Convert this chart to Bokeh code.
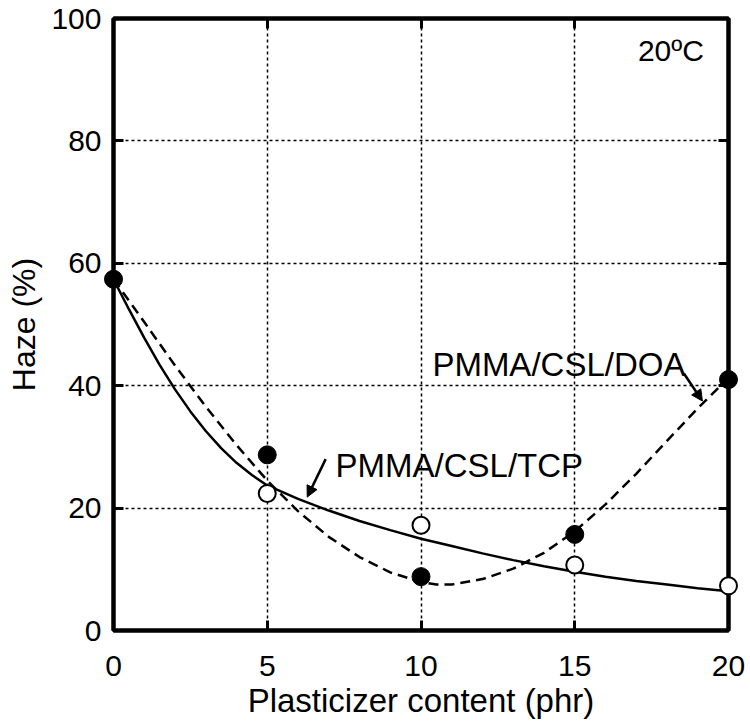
from bokeh.plotting import figure
from bokeh.models import (Range1d, FixedTicker, LinearAxis, Label, Arrow, NormalHead,
                          CustomJSTickFormatter)
from bokeh.embed import file_html
from bokeh.resources import INLINE

# measured data (phr, haze %)
doa_x = [0, 5, 10, 15, 20]
doa_y = [57.4, 28.7, 8.8, 15.7, 41.0]
tcp_x = [5, 10, 15, 20]
tcp_y = [22.4, 17.2, 10.7, 7.3]

# fitted curves
tcp_fit_x = [0, 0.5, 1, 1.5, 2, 2.5, 3, 3.5, 4, 4.5, 5, 6, 7, 8, 9, 10, 11, 12, 13,
             14, 15, 16, 17, 18, 19, 20]
tcp_fit_y = [57.4, 52.5, 47.8, 43.4, 39.4, 35.8, 32.6, 29.8, 27.4, 25.4, 23.7, 21.5,
             19.6, 17.9, 16.4, 15.0, 13.8, 12.6, 11.5, 10.5, 9.6, 8.8, 8.1, 7.5, 6.9, 6.4]
doa_fit_x = [0, 1, 2, 3, 4, 5, 6, 7, 8, 9, 10, 10.5, 11, 12, 13, 14, 15, 16, 17, 18,
             19, 20]
doa_fit_y = [57.4, 50.4, 43.3, 36.6, 30.3, 24.5, 19.5, 15.3, 12.0, 9.5, 7.9, 7.5, 7.5,
             8.4, 10.1, 12.7, 16.2, 20.6, 25.6, 31.0, 36.3, 41.3]

ticks_x = [0, 5, 10, 15, 20]
ticks_y = [0, 20, 40, 60, 80, 100]

FONT = "Liberation Sans"

p = figure(frame_width=615, frame_height=612, output_backend="svg", toolbar_location=None,
           x_range=Range1d(0, 20), y_range=Range1d(0, 100),
           min_border_left=113, min_border_top=18, min_border_right=20, min_border_bottom=0)
p.background_fill_color = "white"
p.border_fill_color = "white"
p.outline_line_color = "black"
p.outline_line_width = 4

for ax in (p.xaxis[0], p.yaxis[0]):
    ax.major_label_text_font = FONT
    ax.major_label_text_font_size = "30px"
    ax.major_label_text_color = "black"
    ax.axis_label_text_font = FONT
    ax.axis_label_text_font_style = "normal"
    ax.axis_label_text_color = "black"
    ax.axis_line_color = "black"
    ax.axis_line_width = 4
    ax.major_tick_in = 10
    ax.major_tick_out = 0
    ax.major_tick_line_width = 3
    ax.major_tick_line_color = "black"
    ax.minor_tick_line_color = None

p.xaxis[0].ticker = FixedTicker(ticks=ticks_x)
p.yaxis[0].ticker = FixedTicker(ticks=ticks_y)
p.xaxis[0].axis_label = "Plasticizer content (phr)"
p.yaxis[0].axis_label = "Haze (%)"
p.xaxis[0].axis_label_text_font_size = "33px"
p.yaxis[0].axis_label_text_font_size = "32px"
p.xaxis[0].major_label_standoff = 25
p.yaxis[0].major_label_standoff = 12
p.xaxis[0].axis_label_standoff = 3
p.yaxis[0].axis_label_standoff = 6

for loc, tk in (("above", ticks_x), ("right", ticks_y)):
    ax = LinearAxis(ticker=FixedTicker(ticks=tk), axis_line_color="black", axis_line_width=4,
                    major_tick_in=10, major_tick_out=0, major_tick_line_width=3,
                    major_tick_line_color="black", minor_tick_line_color=None,
                    formatter=CustomJSTickFormatter(code="return ''"),
                    major_label_standoff=0)
    p.add_layout(ax, loc)

p.xgrid.ticker = FixedTicker(ticks=[5, 10, 15])
p.ygrid.ticker = FixedTicker(ticks=[20, 40, 60, 80])
for g in (p.xgrid[0], p.ygrid[0]):
    g.grid_line_color = "black"
    g.grid_line_width = 1.5
    g.grid_line_dash = "3 3"
    g.grid_line_alpha = 1

p.line(tcp_fit_x, tcp_fit_y, line_color="black", line_width=2.5)
p.line(doa_fit_x, doa_fit_y, line_color="black", line_width=2.5, line_dash="10 6")

r1 = p.scatter(tcp_x, tcp_y, size=17, marker="circle", fill_color="white",
               line_color="black", line_width=2)
r2 = p.scatter(doa_x, doa_y, size=18, marker="circle", fill_color="black",
               line_color="black", line_width=1)
r1.level = "overlay"
r2.level = "overlay"

p.add_layout(Label(x=7.22, y=26.9, text="PMMA/CSL/TCP", text_font=FONT,
                   text_font_size="33px", text_color="black", text_baseline="alphabetic"))
p.add_layout(Label(x=10.37, y=43.5, text="PMMA/CSL/DOA", text_font=FONT,
                   text_font_size="33px", text_color="black", text_baseline="alphabetic"))
p.add_layout(Label(x=19.2, y=94.8, text="20ºC", text_font=FONT, text_align="right",
                   text_font_size="30px", text_color="black", text_baseline="middle"))

p.add_layout(Arrow(x_start=6.9, y_start=28.0, x_end=6.3, y_end=21.8, line_width=2.5,
                   line_color="black",
                   end=NormalHead(size=11, fill_color="black", line_color="black")))
p.add_layout(Arrow(x_start=18.55, y_start=42.0, x_end=19.15, y_end=37.5, line_width=2.5,
                   line_color="black",
                   end=NormalHead(size=11, fill_color="black", line_color="black")))

open("out.html", "w").write(file_html(p, INLINE))
